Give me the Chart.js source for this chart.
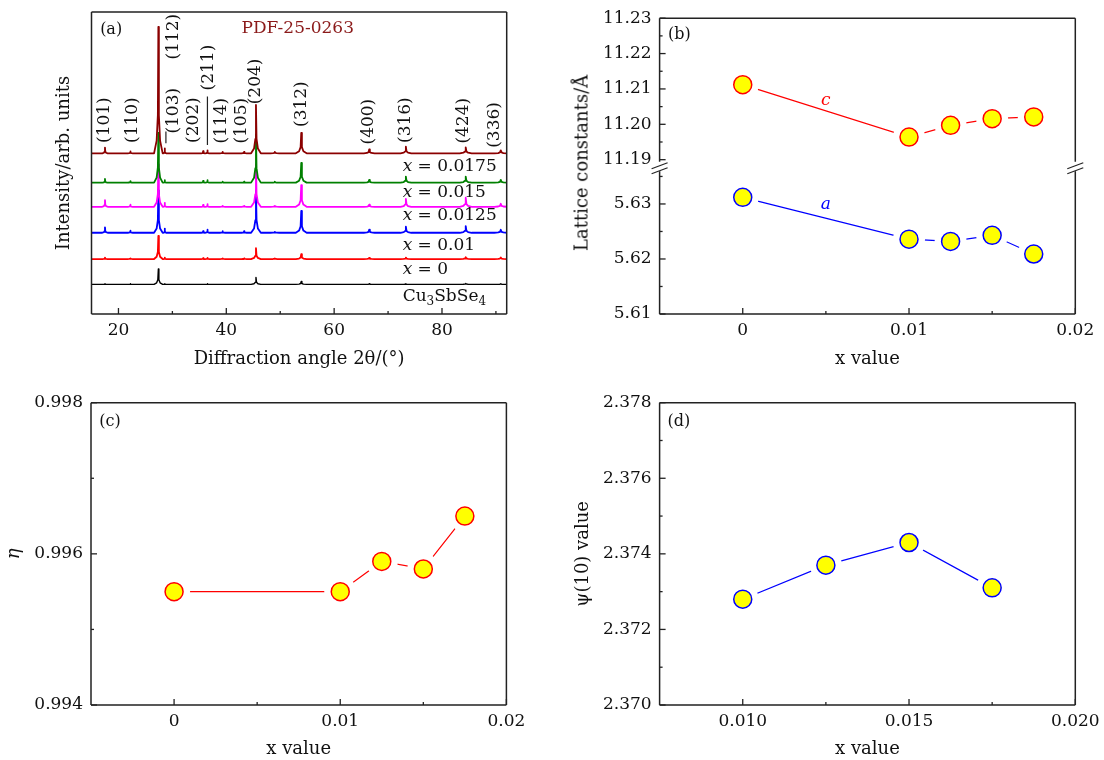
<!DOCTYPE html>
<html>
<head>
<meta charset="utf-8">
<title>Cu3SbSe4 XRD and lattice parameters</title>
<script src="https://cdn.jsdelivr.net/npm/chart.js@4.4.1/dist/chart.umd.min.js"></script>
<style>
  body { margin: 0; background: #fff; }
  #wrap { position: relative; width: 1104px; height: 760px; overflow: hidden; }
  canvas { position: absolute; }
  #bTitle { position: absolute; left: 581px; top: 163px; transform: translate(-50%, -50%) rotate(-90deg);
    font: 18px "DejaVu Serif", serif; color: #111; white-space: nowrap; }
</style>
</head>
<body>
<div id="wrap">
  <canvas id="chartA" width="540" height="380" style="left:0;top:0"></canvas>
  <canvas id="chartB1" width="544" height="180" style="left:560px;top:0"></canvas>
  <canvas id="chartB2" width="544" height="230" style="left:560px;top:150px"></canvas>
  <canvas id="chartC" width="540" height="380" style="left:0;top:380px"></canvas>
  <canvas id="chartD" width="544" height="380" style="left:560px;top:380px"></canvas>
  <div id="bTitle">Lattice constants/Å</div>
</div>
<script>
// === data: (a) XRD patterns ===
// peak positions (2θ, deg) and peak heights above each baseline (arb. units)
const peakPos = [17.5, 22.2, 27.4, 28.6, 35.7, 36.5, 39.3, 43.3, 45.5, 49.0, 53.9, 66.5, 73.3, 84.4, 90.9];
const h0175 = [1.9, 0.6, 41.9, 1.6, 0.7, 1.0, 0.5, 0.5, 16.0, 0.5, 6.8, 1.3, 2.2, 2.0, 1.0];
const h015 = [1.2, 0.5, 16.5, 0.8, 0.6, 0.8, 0.3, 0.3, 16.0, 0.3, 6.5, 0.9, 2.0, 2.0, 0.9];
const h0125 = [2.2, 0.7, 14.0, 1.3, 0.6, 0.9, 0.3, 0.3, 14.0, 0.3, 7.2, 0.7, 2.6, 3.0, 1.0];
const h001 = [1.8, 0.7, 14.0, 1.4, 0.5, 1.0, 0.5, 0.5, 14.0, 0.3, 7.2, 1.0, 2.0, 2.2, 1.0];
const h000 = [0.5, 0.2, 7.7, 0.5, 0.3, 0.4, 0.2, 0.2, 3.6, 0.2, 1.6, 0.4, 0.5, 0.6, 0.5];
const hRef = [0.2, 0.2, 5.1, 0.2, 0.0, 0.2, 0.0, 0.0, 2.3, 0.0, 1.0, 0.2, 0.2, 0.3, 0.2];
const traceOffsets = [53.2, 43.5, 35.5, 26.9, 18.2, 9.8];
const traceNames = ["x = 0.0175", "x = 0.015", "x = 0.0125", "x = 0.01", "x = 0", "Cu3SbSe4"];

// hkl labels (2θ and height of label centre)
const hklText = ["(101)", "(110)", "(112)", "(103)", "(202)", "(211)", "(114)", "(105)", "(204)", "(312)", "(400)", "(316)", "(424)", "(336)"];
const hklX = [17.5, 22.7, 30.2, 30.2, 33.9, 36.7, 39.2, 42.9, 45.5, 54.0, 66.4, 73.2, 84.0, 89.7];
const hklY = [64.2, 64.2, 91.8, 67.3, 64.2, 81.6, 64.0, 64.0, 77.0, 69.5, 63.7, 64.2, 64.0, 62.6];
const leaderX = [28.8, 36.5];
const leaderY0 = [56.5, 56.0];
const leaderY1 = [60.4, 72.0];
const sampleValues = ["0.0175", "0.015", "0.0125", "0.01", "0"];
const sampleLabelY = [48.8, 40.1, 32.5, 22.5, 14.6];
const refLabelY = 5.7;
const sampleLabelX = 72.7;

// === data: (b)-(d) ===
const xVals = [0, 0.01, 0.0125, 0.015, 0.0175];
const latticeC = [11.2112, 11.1964, 11.1997, 11.2016, 11.2021];
const latticeA = [5.6312, 5.6236, 5.6232, 5.6243, 5.6209];
const etaVals = [0.9955, 0.9955, 0.9959, 0.9958, 0.9965];
const psiX = [0.01, 0.0125, 0.015, 0.0175];
const psiVals = [2.3728, 2.3737, 2.3743, 2.3731];

// tick values / labels
const aXTicks = [20, 40, 60, 80];
const aXLabels = ["20", "40", "60", "80"];
const aXMinor = [30, 50, 70, 90];
const bcXTicks = [0, 0.01, 0.02];
const bcXLabels = ["0", "0.01", "0.02"];
const bcXMinor = [0.005, 0.015];
const bUpTicks = [11.19, 11.2, 11.21, 11.22, 11.23];
const bUpLabels = ["11.19", "11.20", "11.21", "11.22", "11.23"];
const bUpMinor = [11.195, 11.205, 11.215, 11.225];
const bLoTicks = [5.61, 5.62, 5.63];
const bLoLabels = ["5.61", "5.62", "5.63"];
const bLoMinor = [5.615, 5.625, 5.635];
const cYTicks = [0.994, 0.996, 0.998];
const cYLabels = ["0.994", "0.996", "0.998"];
const cYMinor = [0.995, 0.997];
const dXTicks = [0.01, 0.015, 0.02];
const dXLabels = ["0.010", "0.015", "0.020"];
const dXMinor = [0.0125, 0.0175];
const dYTicks = [2.37, 2.372, 2.374, 2.376, 2.378];
const dYLabels = ["2.370", "2.372", "2.374", "2.376", "2.378"];
const dYMinor = [2.371, 2.373, 2.375, 2.377];

// === styles ===
const FONT = "'DejaVu Serif', serif";
const traceColors = ["#8b0000", "#008000", "#ff00ff", "#0000ff", "#ff0000", "#000000"];
const peakHalfWidth = [0.5, 0.5, 0.8, 0.25, 0.35, 0.35, 0.5, 0.5, 0.9, 0.8, 1.0, 1.0, 1.0, 1.1, 1.2];
const shapeOffset = [-1, -0.4, -0.12, 0, 0.12, 0.4, 1];
const shapeLevel = [0, 0.1, 0.3, 1, 0.3, 0.1, 0];

Chart.defaults.font.family = FONT;
Chart.defaults.font.size = 17;
Chart.defaults.color = "#111";
Chart.defaults.animation = false;
Chart.defaults.events = [];
Chart.defaults.plugins.legend.display = false;
Chart.defaults.plugins.tooltip.enabled = false;

// === helpers ===
function tracePoints(offset, heights) {
  const pts = [{ x: 15, y: offset }];
  peakPos.forEach((p, i) => {
    const h = heights[i];
    if (!h) return;
    const w = peakHalfWidth[i];
    shapeOffset.forEach((o, j) => pts.push({ x: p + o * w, y: offset + h * shapeLevel[j] }));
  });
  pts.push({ x: 92, y: offset });
  return pts;
}

function setTicks(major, labels, minor) {
  return (scale) => {
    scale.ticks = major
      .map((v, i) => ({ value: v, text: labels[i] }))
      .concat(minor.map((v) => ({ value: v, text: "", minor: true })));
  };
}
const tickText = (v, i, ticks) => (ticks[i] && ticks[i].text) || "";

function axisX(min, max, major, labels, minor, title, titleGap, height) {
  return {
    type: "linear",
    min,
    max,
    grid: { display: false, drawTicks: false },
    border: { display: false },
    ticks: { autoSkip: false, maxRotation: 0, minRotation: 0, padding: 6, callback: tickText },
    afterBuildTicks: setTicks(major, labels, minor),
    afterFit: (s) => { s.height = height; },
    title: { display: true, text: title, font: { size: 18 }, padding: { top: 0, bottom: titleGap } },
  };
}

function axisY(min, max, major, labels, minor, title, titleGap, width, italic) {
  return {
    type: "linear",
    min,
    max,
    grid: { display: false, drawTicks: false },
    border: { display: false },
    ticks: { autoSkip: false, padding: 8, callback: tickText },
    afterBuildTicks: setTicks(major, labels, minor),
    afterFit: (s) => { s.width = width; },
    title: {
      display: !!title,
      text: title || "",
      font: { size: 18, style: italic ? "italic" : "normal" },
      padding: { top: titleGap, bottom: 0 },
    },
  };
}

// frame + inward tick marks
function frame(sides) {
  return {
    id: "frame",
    afterDraw(chart) {
      const { ctx, chartArea: a } = chart;
      ctx.save();
      ctx.strokeStyle = "#222";
      ctx.lineWidth = 1.3;
      Object.values(chart.scales).forEach((s) => {
        if (!s.options.display || !s.options.ticks.display) return;
        s.ticks.forEach((t) => {
          const len = t.minor ? 3 : 6;
          const p = s.getPixelForValue(t.value);
          ctx.beginPath();
          if (s.isHorizontal()) {
            ctx.moveTo(p, a.bottom);
            ctx.lineTo(p, a.bottom - len);
          } else {
            ctx.moveTo(a.left, p);
            ctx.lineTo(a.left + len, p);
          }
          ctx.stroke();
        });
      });
      ctx.lineWidth = 1.5;
      ctx.beginPath();
      if (sides.includes("t")) { ctx.moveTo(a.left, a.top); ctx.lineTo(a.right, a.top); }
      if (sides.includes("b")) { ctx.moveTo(a.left, a.bottom); ctx.lineTo(a.right, a.bottom); }
      if (sides.includes("l")) { ctx.moveTo(a.left, a.top); ctx.lineTo(a.left, a.bottom); }
      if (sides.includes("r")) { ctx.moveTo(a.right, a.top); ctx.lineTo(a.right, a.bottom); }
      ctx.stroke();
      ctx.restore();
    },
  };
}

// text with italic / subscript runs
function drawRuns(ctx, n, x, y) {
  const size = n.size || 17;
  const fontOf = (st) =>
    (st === "i" ? "italic " : "") + (st === "sub" ? Math.round(size * 0.7) : size) + "px " + FONT;
  ctx.save();
  ctx.translate(x, y);
  if (n.rotate) ctx.rotate(-Math.PI / 2);
  ctx.fillStyle = n.color || "#111";
  ctx.textBaseline = "middle";
  ctx.textAlign = "left";
  let w = 0;
  n.runs.forEach(([t, st]) => { ctx.font = fontOf(st); w += ctx.measureText(t).width; });
  let cx = n.align === "left" ? 0 : -w / 2;
  n.runs.forEach(([t, st]) => {
    ctx.font = fontOf(st);
    ctx.fillText(t, cx, st === "sub" ? size * 0.3 : 0);
    cx += ctx.measureText(t).width;
  });
  ctx.restore();
}

function notes(items) {
  return {
    id: "notes",
    afterDraw(chart) {
      items.forEach((n) => {
        const px = chart.scales.x.getPixelForValue(n.x);
        const py = chart.scales.y.getPixelForValue(n.y);
        drawRuns(chart.ctx, n, px, py);
      });
    },
  };
}

// "//" marks where the y axis of (b) is broken
const breakMarks = {
  id: "breakMarks",
  afterDraw(chart) {
    const { ctx, chartArea: a } = chart;
    ctx.save();
    [a.left, a.right].forEach((x0) => {
      ctx.fillStyle = "#fff";
      ctx.fillRect(x0 - 2, a.top - 3, 4, 6);
      ctx.strokeStyle = "#222";
      ctx.lineWidth = 1.2;
      [-2.5, 2.5].forEach((d) => {
        ctx.beginPath();
        ctx.moveTo(x0 - 8, a.top + d + 3);
        ctx.lineTo(x0 + 8, a.top + d - 3);
        ctx.stroke();
      });
    });
    ctx.restore();
  },
};

// line + white gap ring + yellow markers
function markerSets(xs, ys, color) {
  const pts = xs.map((x, i) => ({ x, y: ys[i] }));
  return [
    { data: pts, showLine: false, pointRadius: 9, pointBackgroundColor: "#ffff00",
      pointBorderColor: color, pointBorderWidth: 1.5, order: 0 },
    { data: pts, showLine: false, pointRadius: 16, pointBackgroundColor: "#ffffff",
      pointBorderWidth: 0, order: 1 },
    { data: pts, borderColor: color, borderWidth: 1.2, pointRadius: 0, order: 2 },
  ];
}

// === (a) XRD ===
const allHeights = [h0175, h015, h0125, h001, h000, hRef];
const aSets = allHeights.map((hs, k) => ({
  label: traceNames[k],
  data: tracePoints(traceOffsets[k], hs),
  borderColor: traceColors[k],
  borderWidth: k === 5 ? 1.4 : 1.8,
  borderJoinStyle: "round",
  pointRadius: 0,
}));
leaderX.forEach((x, i) => {
  aSets.push({
    data: [{ x, y: leaderY0[i] }, { x, y: leaderY1[i] }],
    borderColor: "#222",
    borderWidth: 1.2,
    pointRadius: 0,
  });
});

const aNotes = hklText.map((t, i) => ({ x: hklX[i], y: hklY[i], runs: [[t, ""]], rotate: true }));
aNotes.push({ x: 16.6, y: 94.0, runs: [["(a)", ""]], align: "left", size: 16 });
aNotes.push({ x: 53.25, y: 94.6, runs: [["PDF-25-0263", ""]], color: "#8b1a1a" });
sampleValues.forEach((v, i) => {
  aNotes.push({ x: sampleLabelX, y: sampleLabelY[i], runs: [["x", "i"], [" = " + v, ""]], align: "left" });
});
aNotes.push({
  x: sampleLabelX, y: refLabelY, align: "left",
  runs: [["Cu", ""], ["3", "sub"], ["SbSe", ""], ["4", "sub"]],
});

new Chart(document.getElementById("chartA"), {
  type: "line",
  data: { datasets: aSets },
  options: {
    responsive: false,
    layout: { padding: { top: 12, right: 33.3, bottom: 0, left: 0 } },
    scales: {
      x: axisX(15, 92, aXTicks, aXLabels, aXMinor, "Diffraction angle 2θ/(°)", 9.8, 66),
      y: {
        type: "linear", min: 0, max: 100,
        grid: { display: false, drawTicks: false },
        border: { display: false },
        ticks: { display: false },
        afterFit: (s) => { s.width = 91.5; },
        title: { display: true, text: "Intensity/arb. units", font: { size: 18 }, padding: { top: 53.2, bottom: 0 } },
      },
    },
  },
  plugins: [frame("tlrb"), notes(aNotes)],
});

// === (b) lattice constants, broken y axis: upper part c, lower part a ===
new Chart(document.getElementById("chartB1"), {
  type: "line",
  data: { datasets: markerSets(xVals, latticeC, "#ff0000") },
  options: {
    responsive: false,
    layout: { padding: { top: 12, right: 28.7, bottom: 17, left: 0 } },
    scales: {
      x: { type: "linear", min: -0.005, max: 0.02, display: false },
      y: axisY(11.1894, 11.23, bUpTicks, bUpLabels, bUpMinor, null, 0, 99.6),
    },
  },
  plugins: [
    frame("tlr"),
    notes([
      { x: -0.0045, y: 11.2252, runs: [["(b)", ""]], align: "left", size: 16 },
      { x: 0.005, y: 11.2066, runs: [["c", "i"]], color: "#ff0000" },
    ]),
  ],
});

new Chart(document.getElementById("chartB2"), {
  type: "line",
  data: { datasets: markerSets(xVals, latticeA, "#0000ff") },
  options: {
    responsive: false,
    layout: { padding: { top: 13, right: 28.7, bottom: 0, left: 0 } },
    scales: {
      x: axisX(-0.005, 0.02, bcXTicks, bcXLabels, bcXMinor, "x value", 9.8, 66),
      y: axisY(5.61, 5.6365, bLoTicks, bLoLabels, bLoMinor, null, 0, 99.6),
    },
  },
  plugins: [
    frame("lrb"),
    breakMarks,
    notes([{ x: 0.005, y: 5.6298, runs: [["a", "i"]], color: "#0000ff" }]),
  ],
});

// === (c) η ===
new Chart(document.getElementById("chartC"), {
  type: "line",
  data: { datasets: markerSets(xVals, etaVals, "#ff0000") },
  options: {
    responsive: false,
    layout: { padding: { top: 22.7, right: 33.6, bottom: 0, left: 0 } },
    scales: {
      x: axisX(-0.005, 0.02, bcXTicks, bcXLabels, bcXMinor, "x value", 0, 55),
      y: axisY(0.994, 0.998, cYTicks, cYLabels, cYMinor, "η", 3.5, 91, true),
    },
  },
  plugins: [frame("tlrb"), notes([{ x: -0.0045, y: 0.99775, runs: [["(c)", ""]], align: "left", size: 16 }])],
});

// === (d) ψ(10) ===
new Chart(document.getElementById("chartD"), {
  type: "line",
  data: { datasets: markerSets(psiX, psiVals, "#0000ff") },
  options: {
    responsive: false,
    layout: { padding: { top: 22.7, right: 28.7, bottom: 0, left: 0 } },
    scales: {
      x: axisX(0.0075, 0.02, dXTicks, dXLabels, dXMinor, "x value", 0, 55),
      y: axisY(2.37, 2.378, dYTicks, dYLabels, dYMinor, "ψ(10) value", 12.5, 99.6),
    },
  },
  plugins: [frame("tlrb"), notes([{ x: 0.00774, y: 2.3775, runs: [["(d)", ""]], align: "left", size: 16 }])],
});
</script>
</body>
</html>
